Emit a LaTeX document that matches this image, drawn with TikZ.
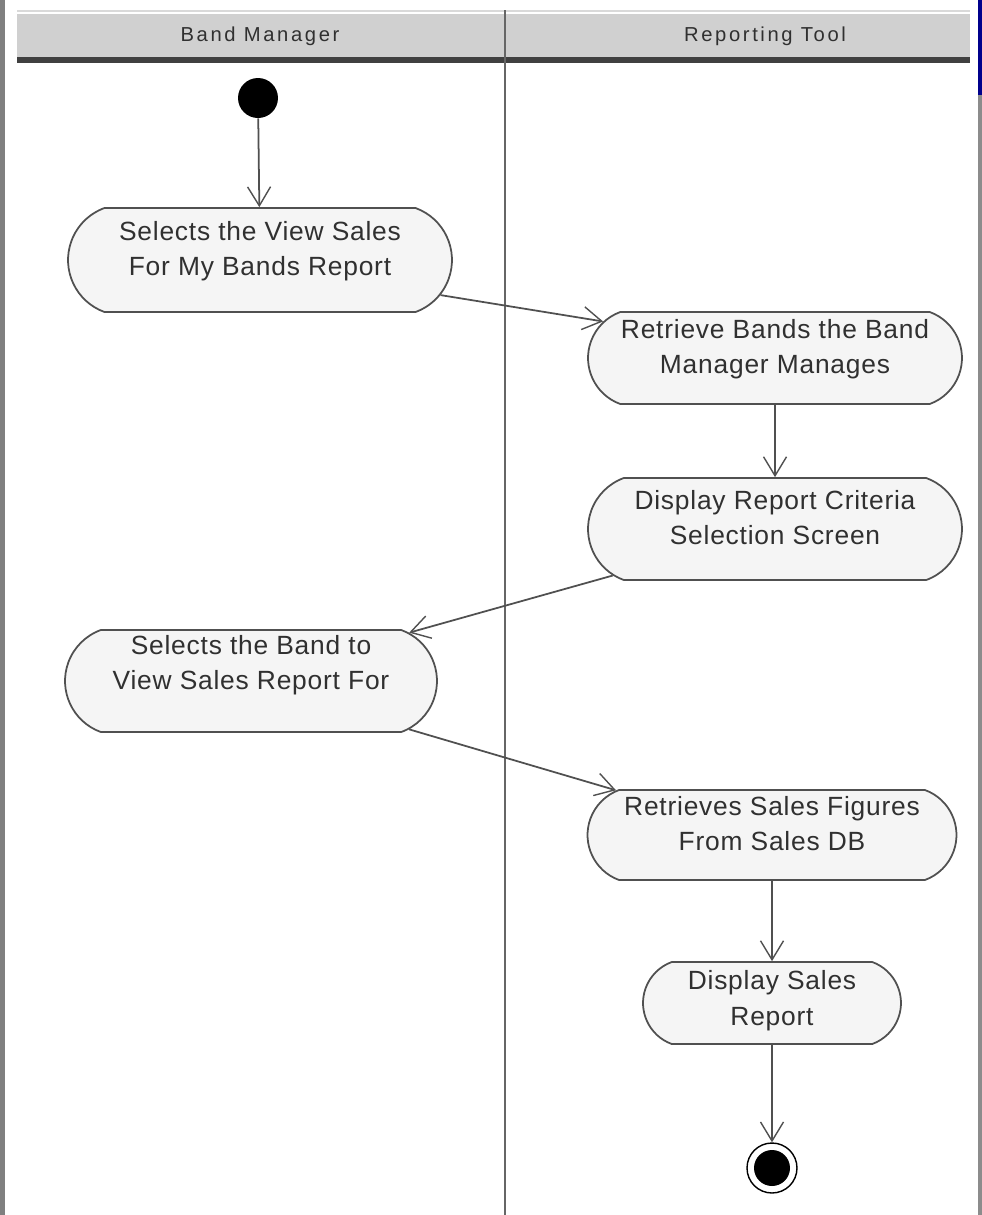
\documentclass[tikz,border=0pt]{standalone}
\usepackage{fontspec}
\setmainfont{Liberation Sans}
\usepackage{tikz}
\usetikzlibrary{shapes.misc,arrows.meta,calc}

\definecolor{lanegray}{HTML}{D0D0D0}
\definecolor{actfill}{HTML}{F5F5F5}
\definecolor{actline}{HTML}{505050}
\definecolor{inkgray}{HTML}{303030}

\begin{document}
\begin{tikzpicture}[x=0.02cm,y=-0.02cm,>={Straight Barb[length=3.8mm,width=4.6mm,line width=0.8pt]},
    act/.style={rounded rectangle,rounded rectangle arc length=140,draw=actline,fill=actfill,line width=1pt,
      align=center,text=inkgray,inner sep=0pt,text depth=0.45cm,font=\fontsize{15}{20}\selectfont\addfontfeature{LetterSpace=3}},
    lane/.style={text=inkgray,font=\fontsize{11.5}{13}\selectfont\addfontfeature{LetterSpace=13}},
    flow/.style={->,draw=actline,line width=1pt}]
    \useasboundingbox (0,0) rectangle (982,1215);
    % window edges
    \fill[black!50] (0,0) rectangle (5,1215);
    \fill[blue!55!black] (978,0) rectangle (982,95);
    \fill[black!45] (978,95) rectangle (982,1215);

    % Swimlane header
    \draw[black!15,line width=1pt] (17,11) -- (970,11);
    \fill[lanegray] (17,14) rectangle (970,57);
    \fill[black!75] (17,57) rectangle (970,63);
    \node (LANE0) at (260,36) [lane] {Band Manager};
    \node (LANE1) at (765,36) [lane] {Reporting Tool};
    % lane divider
    \draw[black!60,line width=1.2pt] (505,10) -- (505,1215);

    % Start and end
    \node (START) at (258,98) [circle,fill=black,minimum size=0.8cm,inner sep=0pt] {};
    \node (END) at (772,1168) [circle,draw=black,line width=0.8pt,minimum size=1cm,inner sep=0pt] {};
    \fill (END.center) circle[radius=0.36cm];

    % Activities
    \node (ACT0) at (260,260) [act,minimum width=7.68cm,minimum height=2.08cm] {Selects the View Sales\\For My Bands Report};
    \node (ACT1) at (775,358) [act,minimum width=7.48cm,minimum height=1.84cm] {Retrieve Bands the Band\\Manager Manages};
    \node (ACT2) at (775,529) [act,minimum width=7.48cm,minimum height=2.04cm] {Display Report Criteria\\Selection Screen};
    \node (ACT3) at (251,681) [act,minimum width=7.44cm,minimum height=2.04cm,text depth=0.75cm] {Selects the Band to\\View Sales Report For};
    \node (ACT4) at (772,835) [act,minimum width=7.38cm,minimum height=1.80cm] {Retrieves Sales Figures\\From Sales DB};
    \node (ACT5) at (772,1003) [act,minimum width=5.16cm,minimum height=1.64cm,text depth=0.2cm] {Display Sales\\Report};

    % Flows
    \draw[flow] (START) -- (ACT0);
    \draw[flow] (ACT0.-11) -- (ACT1.168);
    \draw[flow] (ACT1) -- (ACT2);
    \draw[flow] (ACT2.-164) -- (ACT3.17);
    \draw[flow] (ACT3.-17) -- (ACT4.164);
    \draw[flow] (ACT4) -- (ACT5);
    \draw[flow] (ACT5) -- (END);
\end{tikzpicture}
\end{document}
